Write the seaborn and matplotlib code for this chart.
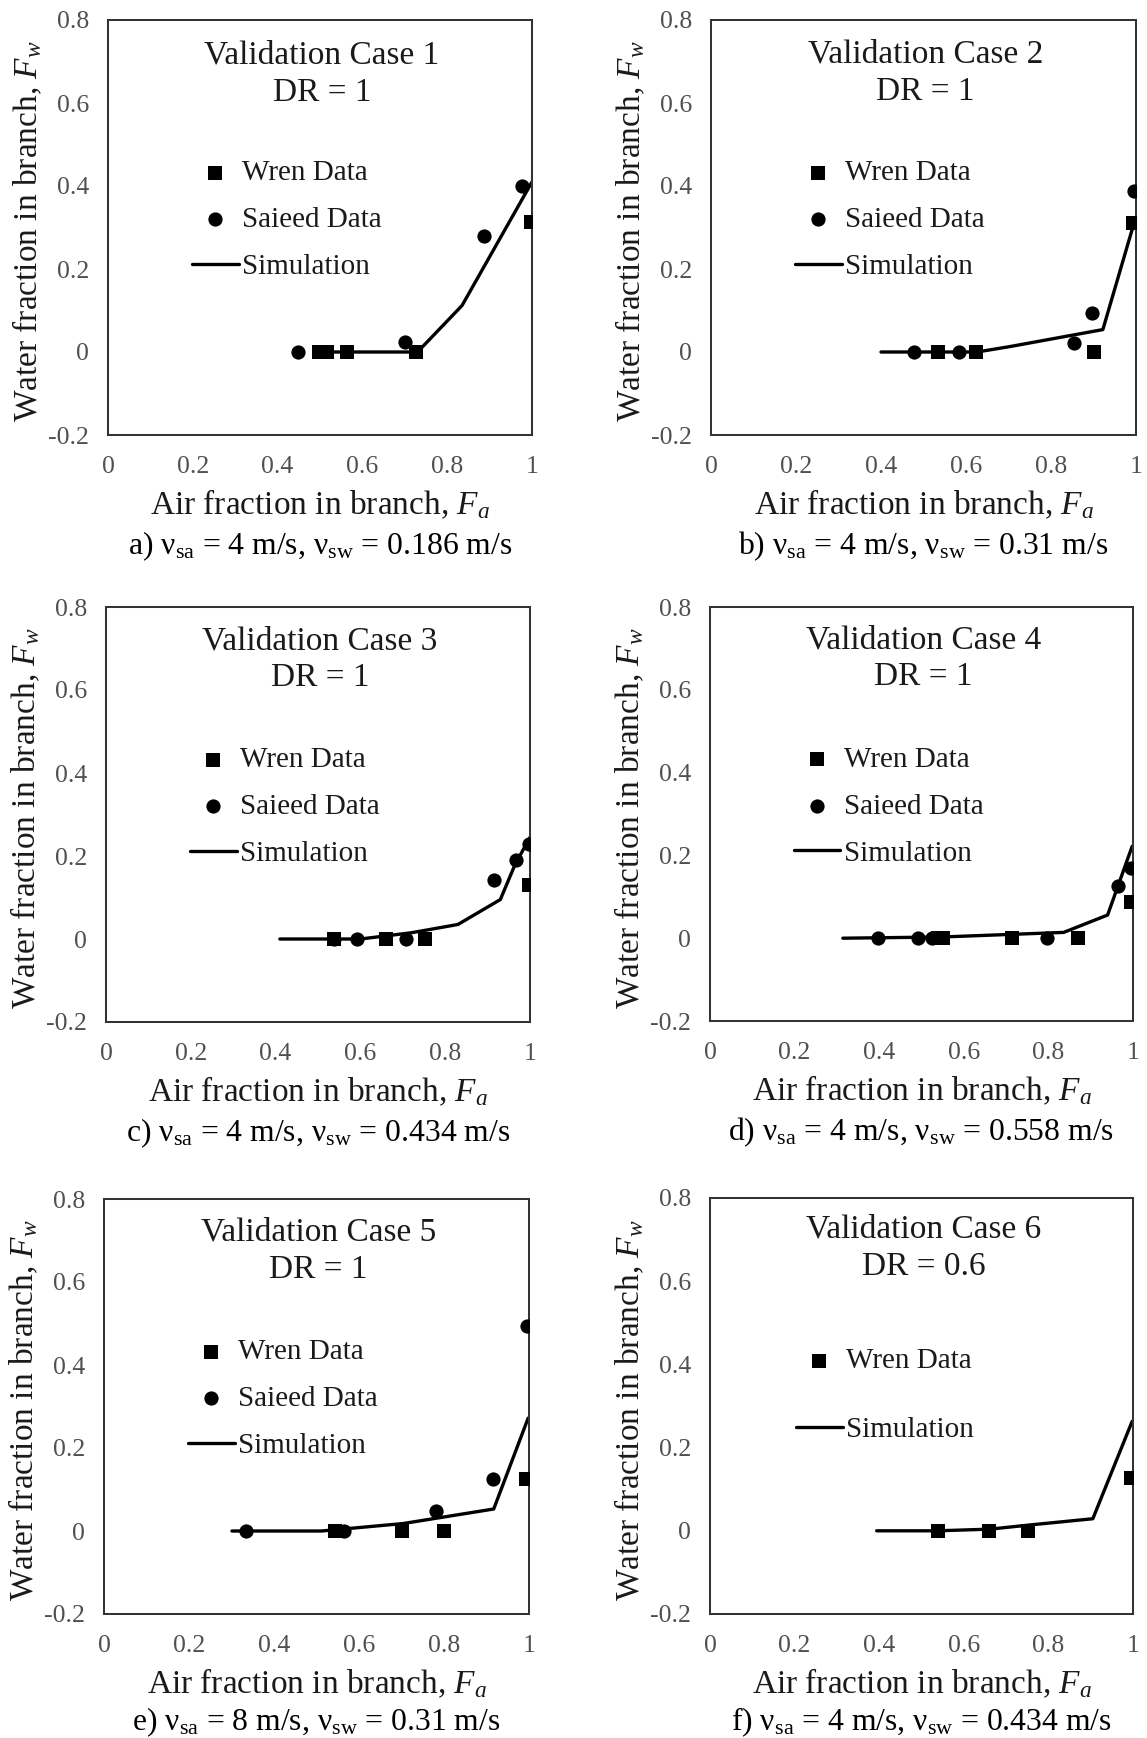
import matplotlib
matplotlib.use("Agg")
import matplotlib.pyplot as plt
import seaborn as sns

# ---- data: air fraction (Fa) vs water fraction (Fw) in the branch ----
case_titles = ["Validation Case 1", "Validation Case 2", "Validation Case 3",
               "Validation Case 4", "Validation Case 5", "Validation Case 6"]
dr_labels = ["DR = 1", "DR = 1", "DR = 1", "DR = 1", "DR = 1", "DR = 0.6"]
captions = [
    r"a) ν$_{\mathrm{sa}}$ = 4 m/s, ν$_{\mathrm{sw}}$ = 0.186 m/s",
    r"b) ν$_{\mathrm{sa}}$ = 4 m/s, ν$_{\mathrm{sw}}$ = 0.31 m/s",
    r"c) ν$_{\mathrm{sa}}$ = 4 m/s, ν$_{\mathrm{sw}}$ = 0.434 m/s",
    r"d) ν$_{\mathrm{sa}}$ = 4 m/s, ν$_{\mathrm{sw}}$ = 0.558 m/s",
    r"e) ν$_{\mathrm{sa}}$ = 8 m/s, ν$_{\mathrm{sw}}$ = 0.31 m/s",
    r"f) ν$_{\mathrm{sa}}$ = 4 m/s, ν$_{\mathrm{sw}}$ = 0.434 m/s",
]

# Case 1
sim_fa_1 = [0.50, 0.73, 0.835, 1.0]
sim_fw_1 = [0.0, 0.0, 0.112, 0.41]
wren_fa_1 = [0.497, 0.517, 0.564, 0.726, 0.997]
wren_fw_1 = [0.0, 0.0, 0.0, 0.0, 0.313]
saieed_fa_1 = [0.449, 0.70, 0.887, 0.976]
saieed_fw_1 = [0.0, 0.023, 0.28, 0.40]

# Case 2
sim_fa_2 = [0.40, 0.626, 0.703, 0.922, 0.996]
sim_fw_2 = [0.0, 0.0, 0.013, 0.054, 0.313]
wren_fa_2 = [0.533, 0.624, 0.90, 0.993]
wren_fw_2 = [0.0, 0.0, 0.0, 0.31]
saieed_fa_2 = [0.478, 0.584, 0.853, 0.896, 0.996]
saieed_fw_2 = [0.0, 0.0, 0.021, 0.094, 0.388]

# Case 3
sim_fa_3 = [0.41, 0.60, 0.72, 0.83, 0.93, 0.965, 1.0]
sim_fw_3 = [0.0, 0.0, 0.015, 0.035, 0.095, 0.18, 0.245]
wren_fa_3 = [0.538, 0.66, 0.752, 0.997]
wren_fw_3 = [0.0, 0.0, 0.0, 0.129]
saieed_fa_3 = [0.538, 0.593, 0.708, 0.915, 0.967, 0.997]
saieed_fw_3 = [0.0, 0.0, 0.0, 0.141, 0.191, 0.23]

# Case 4
sim_fa_4 = [0.314, 0.55, 0.836, 0.94, 0.998]
sim_fw_4 = [0.0, 0.003, 0.014, 0.056, 0.222]
wren_fa_4 = [0.538, 0.551, 0.713, 0.87, 0.996]
wren_fw_4 = [0.0, 0.0, 0.0, 0.0, 0.088]
saieed_fa_4 = [0.396, 0.491, 0.526, 0.796, 0.964, 0.996]
saieed_fw_4 = [0.0, 0.0, 0.0, 0.0, 0.126, 0.17]

# Case 5
sim_fa_5 = [0.301, 0.512, 0.704, 0.917, 0.998]
sim_fw_5 = [0.0, 0.0, 0.018, 0.053, 0.272]
wren_fa_5 = [0.544, 0.702, 0.80, 0.994]
wren_fw_5 = [0.0, 0.0, 0.0, 0.126]
saieed_fa_5 = [0.335, 0.564, 0.78, 0.915, 0.996]
saieed_fw_5 = [0.0, 0.0, 0.049, 0.126, 0.494]

# Case 6 (no Saieed measurements)
sim_fa_6 = [0.394, 0.539, 0.662, 0.756, 0.905, 0.998]
sim_fw_6 = [0.0, 0.0, 0.004, 0.014, 0.029, 0.263]
wren_fa_6 = [0.539, 0.66, 0.751, 0.996]
wren_fw_6 = [0.0, 0.0, 0.0, 0.128]
saieed_fa_6 = []
saieed_fw_6 = []

x_ticks = [0, 0.2, 0.4, 0.6, 0.8, 1]
x_tick_labels = ["0", "0.2", "0.4", "0.6", "0.8", "1"]
y_ticks = [-0.2, 0, 0.2, 0.4, 0.6, 0.8]
y_tick_labels = ["-0.2", "0", "0.2", "0.4", "0.6", "0.8"]

sims = [(sim_fa_1, sim_fw_1), (sim_fa_2, sim_fw_2), (sim_fa_3, sim_fw_3),
        (sim_fa_4, sim_fw_4), (sim_fa_5, sim_fw_5), (sim_fa_6, sim_fw_6)]
wrens = [(wren_fa_1, wren_fw_1), (wren_fa_2, wren_fw_2), (wren_fa_3, wren_fw_3),
         (wren_fa_4, wren_fw_4), (wren_fa_5, wren_fw_5), (wren_fa_6, wren_fw_6)]
saieeds = [(saieed_fa_1, saieed_fw_1), (saieed_fa_2, saieed_fw_2),
           (saieed_fa_3, saieed_fw_3), (saieed_fa_4, saieed_fw_4),
           (saieed_fa_5, saieed_fw_5), (saieed_fa_6, saieed_fw_6)]

# ---- style ----
sns.set_style("white")
plt.rcParams["font.family"] = ["Liberation Serif", "DejaVu Serif"]
plt.rcParams["mathtext.fontset"] = "custom"
plt.rcParams["mathtext.rm"] = "Liberation Serif"
plt.rcParams["mathtext.it"] = "Liberation Serif:italic"

W, H = 1147, 1738
fig = plt.figure(figsize=(W / 100, H / 100), dpi=100)

# axes boxes in pixels: left, top, right, bottom
boxes = [(108, 20, 532, 435), (711, 20, 1136, 435),
         (106, 607, 530, 1022), (710, 607, 1133, 1021),
         (104, 1199, 529, 1614), (710, 1198, 1133, 1614)]
title_offsets = [(35, 73), (34, 72), (34, 71), (33, 70), (33, 71), (31, 69)]
caption_offsets = [119, 119, 119, 119, 116, 116]

ink = "#1a1a1a"
for i, (l, t, r, b) in enumerate(boxes):
    ax = fig.add_axes([l / W, 1 - b / H, (r - l) / W, (b - t) / H])
    hpx = b - t
    wpx = r - l

    sfa, sfw = sims[i]
    sns.lineplot(x=sfa, y=sfw, ax=ax, color="black", linewidth=2.4,
                 estimator=None, sort=False, label="Simulation", zorder=2)
    wfa, wfw = wrens[i]
    sns.scatterplot(x=wfa, y=wfw, ax=ax, marker="s", s=98, color="black",
                    edgecolor="black", linewidth=0, label="Wren Data", zorder=3)
    afa, afw = saieeds[i]
    if len(afa):
        sns.scatterplot(x=afa, y=afw, ax=ax, marker="o", s=105, color="black",
                        edgecolor="black", linewidth=0, label="Saieed Data", zorder=3)

    ax.set_xlim(0, 1)
    ax.set_ylim(-0.2, 0.8)
    ax.set_xticks(x_ticks)
    ax.set_xticklabels(x_tick_labels)
    ax.set_yticks(y_ticks)
    ax.set_yticklabels(y_tick_labels)
    ax.tick_params(axis="both", length=0, labelsize=18.5, labelcolor="#505050")
    ax.tick_params(axis="x", pad=15)
    ax.tick_params(axis="y", pad=13.5)
    for sp in ax.spines.values():
        sp.set_visible(True)
        sp.set_color("#333333")
        sp.set_linewidth(1.45)

    ax.set_xlabel(r"Air fraction in branch, $F_a$", fontsize=24, color=ink)
    ax.set_ylabel(r"Water fraction in branch, $F_w$", fontsize=24, color=ink)
    ax.xaxis.set_label_coords(0.5, -53 / hpx)
    ax.yaxis.set_label_coords(-64 / wpx, 0.49)

    o1, o2 = title_offsets[i]
    ax.text(0.505, 1 - o1 / hpx, case_titles[i], transform=ax.transAxes,
            ha="center", va="center", fontsize=24, color=ink)
    ax.text(0.505, 1 - o2 / hpx, dr_labels[i], transform=ax.transAxes,
            ha="center", va="center", fontsize=24, color=ink)
    ax.text(0.5, -caption_offsets[i] / hpx, captions[i], transform=ax.transAxes,
            ha="center", va="baseline", fontsize=22.8, color="black")

    handles, labels = ax.get_legend_handles_labels()
    order = [lab for lab in ["Wren Data", "Saieed Data", "Simulation"] if lab in labels]
    hs = [handles[labels.index(lab)] for lab in order]
    if len(order) == 3:
        spacing, top, left = 0.70, 0.663, 0.198
    else:
        spacing, top, left = 1.45, 0.64, 0.203
    ax.legend(hs, order, loc="upper left", bbox_to_anchor=(left, top),
              frameon=False, fontsize=21, handlelength=1.6, handletextpad=0.12,
              labelspacing=spacing, borderpad=0, borderaxespad=0,
              labelcolor=ink)

fig.savefig("out.png", dpi=100)
